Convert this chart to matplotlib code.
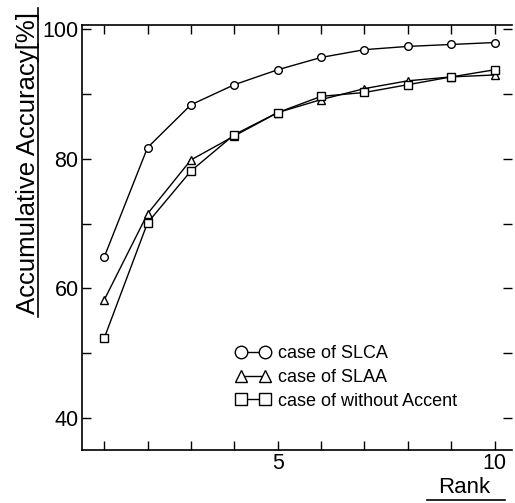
import numpy as np
import matplotlib
matplotlib.use("Agg")
import matplotlib.pyplot as plt
from matplotlib.lines import Line2D

plt.rcParams["font.family"] = ["Liberation Sans", "DejaVu Sans"]

# data
rank = [1, 2, 3, 4, 5, 6, 7, 8, 9, 10]
slca = [64.8, 81.7, 88.3, 91.4, 93.7, 95.6, 96.8, 97.3, 97.6, 97.9]
slaa = [58.2, 71.5, 79.8, 83.5, 87.1, 89.1, 90.8, 92.0, 92.6, 92.9]
no_accent = [52.3, 70.1, 78.1, 83.7, 87.1, 89.6, 90.2, 91.4, 92.6, 93.7]

series_labels = ["case of SLCA", "case of SLAA", "case of without Accent"]
series_markers = ["o", "^", "s"]

xtick_vals = list(range(1, 11))
xtick_labels = ["", "", "", "", "5", "", "", "", "", "10"]
ytick_vals = [40, 50, 60, 70, 80, 90, 100]
ytick_labels = ["40", "", "60", "", "80", "", "100"]

W, H = 515, 503
fig = plt.figure(figsize=(W / 100, H / 100), dpi=100)
ax = fig.add_axes([82 / W, 1 - 450 / H, (512 - 82) / W, (450 - 25) / H])

for ys, m in zip([slca, slaa, no_accent], series_markers):
    ax.plot(rank, ys, color="black", lw=1.0, marker=m, ms=5.5,
            mfc="white", mec="black", mew=1.0)

ax.set_xlim(0.49, 10.4)
ax.set_ylim(35.1, 100.6)
ax.set_xticks(xtick_vals)
ax.set_xticklabels(xtick_labels)
ax.set_yticks(ytick_vals)
ax.set_yticklabels(ytick_labels)
ax.tick_params(direction="in", top=True, right=True, length=6.5, width=1,
               labelsize=15.5, pad=2.5)
ax.spines["right"].set_visible(False)
for s in ["left", "top", "bottom"]:
    ax.spines[s].set_linewidth(1.2)

ax.set_ylabel("Accumulative Accuracy[%]", fontsize=18.5)
ax.yaxis.set_label_coords((40 - 82) / 430, (450 - 163) / 425)
ax.set_xlabel("Rank", fontsize=16)
ax.xaxis.set_label_coords((464 - 82) / 430, (450 - 477) / 425)

# underlines of the axis titles
fig.add_artist(Line2D([38 / W, 38 / W], [1 - 8 / H, 1 - 317 / H],
                      color="black", lw=1.2))
fig.add_artist(Line2D([427 / W, 505 / W], [1 - 500 / H, 1 - 500 / H],
                      color="black", lw=1.2))

handles = [Line2D([], [], color="black", lw=1.0, marker=m, ms=9,
                  mfc="white", mec="black", mew=1.0) for m in series_markers]
ax.legend(handles, series_labels, numpoints=2, frameon=False, fontsize=13,
          handlelength=1.9, handletextpad=0.4, labelspacing=0.38,
          borderpad=0, borderaxespad=0, loc="upper left",
          bbox_to_anchor=(236 / W, 1 - 345 / H),
          bbox_transform=fig.transFigure)

fig.savefig("out.png", dpi=100)
